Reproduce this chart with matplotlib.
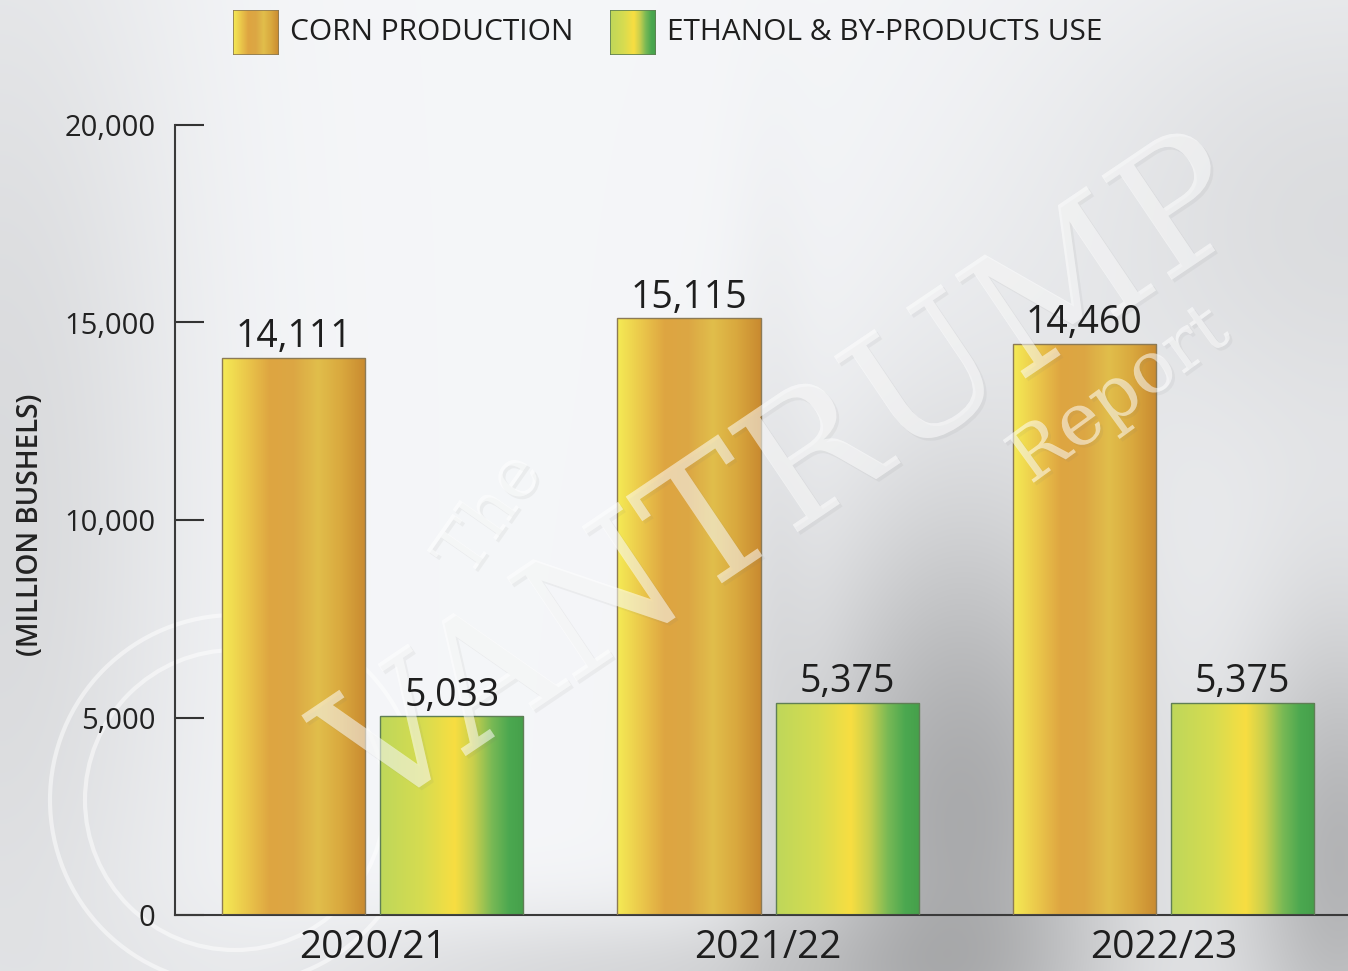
import numpy as np
import matplotlib.pyplot as plt
import matplotlib.patheffects as pe
from matplotlib.colors import LinearSegmentedColormap
from matplotlib.patches import Circle, Rectangle

plt.rcParams['font.family'] = ['Open Sans', 'DejaVu Sans']

# data
seasons = ['2020/21', '2021/22', '2022/23']
corn_production = [14111, 15115, 14460]
ethanol_use = [5033, 5375, 5375]
legend_labels = ['CORN PRODUCTION', 'ETHANOL & BY-PRODUCTS USE']
y_ticks = [0, 5000, 10000, 15000, 20000]

W, H = 1348, 971
fig = plt.figure(figsize=(W / 100, H / 100), dpi=100)

# metallic grey background
bg = fig.add_axes([0, 0, 1, 1], zorder=-10)
yy, xx = np.mgrid[0:H, 0:W]


def blob(cx, cy, sx, sy, a):
    return a * np.exp(-(((xx - cx) / sx) ** 2 + ((yy - cy) / sy) ** 2))


L = (0.975
     - blob(960, 820, 170, 330, 0.30)
     - blob(1340, 860, 110, 260, 0.26)
     - blob(0, 520, 190, 700, 0.11)
     - blob(1348, 220, 320, 280, 0.10)
     - blob(650, 980, 380, 70, 0.12)
     - blob(770, 600, 40, 350, 0.05))
img = np.dstack([L * 0.985, L * 0.99, L * 1.0]).clip(0, 1)
bg.imshow(img, aspect='auto', extent=(0, W, H, 0))
bg.set_xlim(0, W)
bg.set_ylim(H, 0)
bg.axis('off')
# faint logo rings of the watermark
for r in (185, 150):
    bg.add_patch(Circle((235, 800), r, fill=False, ec='white', lw=3, alpha=0.5))

corn_cmap = LinearSegmentedColormap.from_list(
    'corn', ['#f5eb55', '#ebc84b', '#dea541', '#dca744', '#e1be4b', '#d9a83e', '#c98a30'])
eth_cmap = LinearSegmentedColormap.from_list(
    'eth', [(0, '#bed75a'), (0.3, '#d7dc50'), (0.52, '#f8de41'), (0.65, '#c8cf4d'),
            (0.78, '#78b955'), (0.9, '#4ba850'), (1, '#46a04b')])
grad = np.linspace(0, 1, 256).reshape(1, -1)

ax = fig.add_axes([175 / W, 56 / H, 1 - 175 / W, 790 / H])
ax.set_facecolor('none')

x = np.arange(len(seasons))
width = 0.362


def gradient_bars(xs, vals, cmap, edge):
    bars = ax.bar(xs, vals, width, facecolor='none', edgecolor=edge, linewidth=1.0, zorder=3)
    for b in bars:
        x0, y0 = b.get_x(), b.get_y()
        im = ax.imshow(grad, cmap=cmap, aspect='auto', zorder=2,
                       extent=(x0, x0 + b.get_width(), y0, y0 + b.get_height()))
        im.set_clip_path(b)
    for xi, v in zip(xs, vals):
        ax.annotate(f'{v:,}', (xi, v), xytext=(0, 1), textcoords='offset points',
                    ha='center', va='bottom', fontsize=27, color='#1e1e1e', zorder=6)


gradient_bars(x - 0.2, corn_production, corn_cmap, '#8c7a55')
gradient_bars(x + 0.2, ethanol_use, eth_cmap, '#5f7f55')

ax.set_xlim(-0.5, 2.4665)
ax.set_ylim(0, 20000)
ax.set_yticks(y_ticks)
ax.set_yticklabels([f'{t:,}' for t in y_ticks], fontsize=21, color='#222222')
ax.set_xticks(x)
ax.set_xticklabels(seasons, fontsize=28, color='#1e1e1e')
ax.tick_params(axis='y', direction='in', length=21, width=1.5, color='#333333', pad=14)
ax.tick_params(axis='x', length=0, pad=10)
for s in ('top', 'right'):
    ax.spines[s].set_visible(False)
for s in ('left', 'bottom'):
    ax.spines[s].set_color('#3a3a3a')
    ax.spines[s].set_linewidth(1.5)

fig.text(31 / W, 1 - 525 / H, '(MILLION BUSHELS)', rotation=90, ha='center', va='center',
         fontsize=20, weight='semibold', color='#222222')

# legend
for px, cmap, edge, label, tx in [(233, corn_cmap, '#8c7a55', legend_labels[0], 290),
                                  (610, eth_cmap, '#5f7f55', legend_labels[1], 667)]:
    lax = fig.add_axes([px / W, 1 - 55 / H, 46 / W, 45 / H])
    lax.imshow(grad, cmap=cmap, aspect='auto', extent=(0, 1, 0, 1))
    lax.add_patch(Rectangle((0, 0), 1, 1, fill=False, ec=edge, lw=1.2))
    lax.set_xlim(0, 1)
    lax.set_ylim(0, 1)
    lax.axis('off')
    fig.text(tx / W, 1 - 33 / H, label, ha='left', va='center', fontsize=21.5, color='#1e1e1e')

# watermark, above bars but below the value labels
wm = dict(color='white', alpha=0.32, family=['DejaVu Serif'], zorder=4, clip_on=False,
          transform=fig.transFigure,
          path_effects=[pe.withSimplePatchShadow(offset=(2, -2), shadow_rgbFace='#777777', alpha=0.08),
                        pe.Normal()])
ax.text(490 / W, 1 - 515 / H, 'The', rotation=55, ha='center', va='center', fontsize=50, **wm)
ax.text(790 / W, 1 - 480 / H, 'VANTRUMP', rotation=34, ha='center', va='center', fontsize=124, **wm)
ax.text(1120 / W, 1 - 395 / H, 'Report', rotation=36, ha='center', va='center', fontsize=52, **wm)

fig.savefig('out.png', dpi=100)
